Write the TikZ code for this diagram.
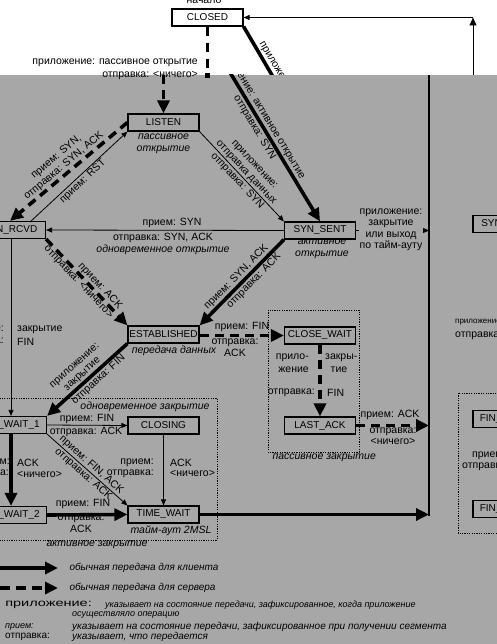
\documentclass[tikz,border=0pt]{standalone}
\usepackage{fontspec}
\setmainfont{Liberation Sans}
\usetikzlibrary{arrows.meta}
\definecolor{bg}{RGB}{167,167,167}
\begin{document}
\begin{tikzpicture}[x=1pt,y=-1pt,
  font=\fontsize{10.5}{11.5}\selectfont,
  state/.style={draw, line width=1.2pt, minimum width=71pt, minimum height=17pt, inner sep=0pt, font=\fontsize{10}{11}\selectfont},
  thinarr/.style={line width=0.8pt, -{Triangle[length=6pt,width=5pt]}},
  thickarr/.style={line width=3.6pt, -{Triangle[length=13pt,width=12pt]}},
  dasharr/.style={line width=3.6pt, dash pattern=on 9pt off 6pt, -{Triangle[length=13pt,width=12pt]}},
  lab/.style={inner sep=1pt},
  it/.style={font=\fontsize{10.5}{11.5}\selectfont\itshape},
  lg/.style={font=\fontsize{9}{10}\selectfont\itshape},
  lgb/.style={font=\fontsize{10}{11}\selectfont\itshape},
  dotbox/.style={draw, line width=0.8pt, dash pattern=on 1.2pt off 1.2pt}]
\useasboundingbox (0,0) rectangle (497,644);
\fill[white] (0,0) rectangle (497,75);
\fill[bg] (0,75) rectangle (497,644);

% ---------- upper (white) part ----------
\begin{scope}
\clip (0,0) rectangle (497,75);
\node[state, fill=white] (closed) at (207.5,17.5) {CLOSED};
\node (start) at (204,1) {начало};
\coordinate (ao) at (358,222);
\draw[line width=3.6pt] (closed.south east) -- (ao)
  node[pos=.45, sloped, above, lab] {приложение: активное открытие};
\coordinate (ld0) at (207.5,72);
\draw[line width=3.6pt, dash pattern=on 9pt off 7pt] (closed.south) -- (ld0);
\coordinate (rv) at (473,75);
\coordinate (rc) at (473,17.5);
\draw[line width=0.9pt, -{Triangle[length=8pt,width=7pt]}] (rv) -- (rc);
\draw[line width=0.9pt, -{Triangle[length=6pt,width=5pt]}] (rc) -- (closed.east);
\node[anchor=east, inner sep=0pt] (popen) at (198,63) {приложение: пассивное открытие};
\end{scope}

% ---------- gray part ----------
\begin{scope}
\clip (0,75) rectangle (497,644);
\node[state] (listen) at (163.5,122.5) {LISTEN};
\node[state] (synrcvd) at (10,230) {SYN\_RCVD};
\node[state] (synsent) at (320,230.5) {SYN\_SENT};
\node[state] (estab) at (163.5,334.5) {ESTABLISHED};
\node[state] (closewait) at (320,335.5) {CLOSE\_WAIT};
\node[state] (lastack) at (320,425.5) {LAST\_ACK};
\node[state] (finwait1) at (11,425) {FIN\_WAIT\_1};
\node[state] (closing) at (163.5,425.5) {CLOSING};
\node[state] (finwait2) at (11,515) {FIN\_WAIT\_2};
\node[state] (timewait) at (163.5,514.5) {TIME\_WAIT};

% state comments
\node[it, align=center] at (163.5,144) {пассивное\\открытие};
\node[it, align=center] at (322,249) {активное\\открытие};
\node[it] at (174,351) {передача данных};
\node[it] at (171,531) {тайм-аут 2MSL};

% dotted boxes
\draw[dotbox] (-5,398) rectangle (217,540);
\draw[dotbox] (268,310) rectangle (359,452);
\node[it, anchor=east] at (213,407) {одновременное закрытие};
\node[it] at (97,545) {активное закрытие};
\node[it, anchor=west] at (269,458) {пассивное закрытие};

% CLOSED -> LISTEN (server)
\coordinate (ld) at (163.5,75);
\draw[dasharr] (ld) -- (listen.north);
% CLOSED -> SYN_SENT (client), shifted part
\coordinate (ao2) at (202,26);
\draw[thickarr] (ao2) -- (synsent.north)
  node[pos=.45, sloped, above, lab] {приложение: активное открытие}
  node[pos=.5, sloped, below, lab] {отправка: SYN};

% LISTEN -> SYN_SENT
\draw[thinarr] (listen.south east) -- (synsent.north west)
  node[pos=.5, sloped, above, lab, align=center] {приложение:\\отправка данных}
  node[pos=.5, sloped, below, lab] {отправка: SYN};

% LISTEN -> SYN_RCVD
\draw[dasharr] (listen.west) -- (synrcvd.north)
  node[pos=.5, sloped, above, lab, align=center] {прием: SYN,\\отправка: SYN, ACK};
% SYN_RCVD -> LISTEN
\coordinate (rst) at (30,222);
\draw[thinarr] (rst) -- (listen.south west)
  node[pos=.5, sloped, below, lab] {прием: RST};

% SYN_SENT -> SYN_RCVD
\draw[thinarr] (synsent.west) -- (synrcvd.east);
\node at (172,223) {прием: SYN};
\node at (163,237.5) {отправка: SYN, ACK};
\node[it] at (163,249.5) {одновременное открытие};

% SYN_RCVD -> ESTABLISHED
\draw[dasharr] (synrcvd.south east) -- (estab.north west)
  node[pos=.6, sloped, above, inner sep=0.5pt] {прием: ACK}
  node[pos=.45, sloped, below, inner sep=0.5pt] {отправка: <ничего>};

% SYN_SENT -> ESTABLISHED
\draw[thickarr] (synsent.south west) -- (estab.north east)
  node[pos=.5, sloped, above, lab] {прием: SYN, ACK}
  node[pos=.42, sloped, below, lab] {отправка: ACK};

% SYN_SENT -> CLOSED line
\coordinate (vt) at (429,75);
\coordinate (vb) at (429,516);
\draw[line width=1.3pt] (vt) -- (vb);
\coordinate (v1) at (429,230.5);
\draw[thinarr] (synsent.east) -- (v1);
\node[fill=bg, align=center, inner sep=1pt] at (391,230) {приложение:\\закрытие\\или выход\\по тайм-ауту};

% ESTABLISHED -> CLOSE_WAIT
\draw[dasharr] (estab.east |- closewait.west) -- (closewait.west);
\node at (242,327) {прием: FIN};
\node[align=center] at (235,347.5) {отправка:\\ACK};

% CLOSE_WAIT -> LAST_ACK
\draw[dasharr] (closewait.south) -- (lastack.north);
\node[anchor=east, inner sep=0pt] at (309,358) {прило-};
\node[anchor=west, inner sep=0pt] at (325,358) {закры-};
\node[anchor=east, inner sep=0pt] at (309,370) {жение};
\node[inner sep=0pt] at (339,370) {тие};
\node[anchor=east, inner sep=0pt] at (315,393) {отправка:};
\node[anchor=west, inner sep=0pt] at (327,393) {FIN};

% LAST_ACK -> CLOSED line
\coordinate (v2) at (429,425.5);
\draw[dasharr] (lastack.east) -- (v2);
\node at (390,415) {прием: ACK};
\node[align=center] at (393,436) {отправка:\\<ничего>};

% ESTABLISHED -> FIN_WAIT_1
\draw[thickarr] (estab.south west) -- (finwait1.north east)
  node[pos=.5, sloped, above, lab, align=center] {приложение:\\закрытие}
  node[pos=.42, sloped, below, lab] {отправка: FIN};

% SYN_RCVD -> FIN_WAIT_1
\draw[thinarr] (synrcvd.south -| finwait1.north) -- (finwait1.north);
\node[anchor=east, inner sep=0pt] at (4,330) {приложение:};
\node[anchor=west, inner sep=0pt] at (17,330) {закрытие};
\node[anchor=east, inner sep=0pt] at (4,342) {отправка:};
\node[anchor=west, inner sep=0pt] at (17,342) {FIN};

% FIN_WAIT_1 -> CLOSING
\draw[thinarr] (finwait1.east) -- (closing.west);
\node at (87,418.5) {прием: FIN};
\node at (86,431.5) {отправка: ACK};

% FIN_WAIT_1 -> TIME_WAIT
\draw[thinarr] (finwait1.south east) -- (timewait.north west)
  node[pos=.5, sloped, above, lab] {прием: FIN, ACK}
  node[pos=.5, sloped, below, lab] {отправка: ACK};

% FIN_WAIT_1 -> FIN_WAIT_2
\draw[thickarr] (finwait1.south) -- (finwait2.north);
\node[anchor=east, inner sep=0pt] at (10,463) {прием:};
\node[anchor=west, inner sep=0pt] at (17,463) {ACK};
\node[anchor=east, inner sep=0pt] at (9,474) {отправка:};
\node[anchor=west, inner sep=0pt] at (17,474) {<ничего>};

% CLOSING -> TIME_WAIT
\draw[thinarr] (closing.south) -- (timewait.north);
\node[anchor=east, inner sep=0pt] at (154,463) {прием:};
\node[anchor=west, inner sep=0pt] at (170,463) {ACK};
\node[anchor=east, inner sep=0pt] at (154,473.5) {отправка:};
\node[anchor=west, inner sep=0pt] at (170,473.5) {<ничего>};

% FIN_WAIT_2 -> TIME_WAIT
\draw[thickarr] (finwait2.east) -- (timewait.west);
\node at (83,504) {прием: FIN};
\node[align=center] at (81,523.5) {отправка:\\ACK};

% TIME_WAIT -> CLOSED line
\coordinate (v3) at (429,514.5);
\draw[thickarr] (timewait.east) -- (v3);

% right fragment
\node[state] (rsyn) at (508.5,224) {SYN\_RCVD};
\node[anchor=west, inner sep=0pt, font=\fontsize{8}{9}\selectfont] at (455,322) {приложение: закрытие};
\node[anchor=west, inner sep=0pt] at (455,335) {отправка: FIN};
\draw[dotbox] (458,393) rectangle (540,533);
\node[state] (rfin1) at (508.5,419) {FIN\_WAIT\_1};
\node[anchor=west, inner sep=0pt] at (472,455) {прием: FIN};
\node[anchor=west, inner sep=0pt] at (462,466) {отправка: ACK};
\node[state] (rfin2) at (508.5,509) {FIN\_WAIT\_2};

% legend
\coordinate (l1a) at (0,568);
\coordinate (l1b) at (58,568);
\draw[thickarr] (l1a) -- (l1b);
\node[lgb, anchor=west] at (66,568) {обычная передача для клиента};
\coordinate (l2a) at (0,588);
\coordinate (l2b) at (58,588);
\draw[dasharr, dash pattern=on 10pt off 6pt] (l2a) -- (l2b);
\node[lgb, anchor=west] at (66,588) {обычная передача для сервера};
\node[anchor=west, inner sep=0pt, font=\fontsize{10}{11}\selectfont, xscale=1.45] at (5,605) {приложение:};
\node[lg, anchor=west, inner sep=0pt] at (105,605) {указывает на состояние передачи, зафиксированное, когда приложение};
\node[lg, anchor=west, inner sep=0pt] at (72,615.5) {осуществляло операцию};
\node[lg, anchor=west, inner sep=0pt] at (5,627) {прием:};
\node[lgb, anchor=west, inner sep=0pt] at (72,627) {указывает на состояние передачи, зафиксированное при получении сегмента};
\node[anchor=west, inner sep=0pt, font=\fontsize{10}{11}\selectfont] at (5,637) {отправка:};
\node[lgb, anchor=west, inner sep=0pt] at (72,637) {указывает, что передается};
\end{scope}

% overlay across the boundary
\node[anchor=east, inner sep=0pt] (pnone) at (198,75.5) {отправка: <ничего>};
\node[fill, minimum size=5pt, inner sep=0pt] (sq) at (207.5,76) {};
\end{tikzpicture}
\end{document}
